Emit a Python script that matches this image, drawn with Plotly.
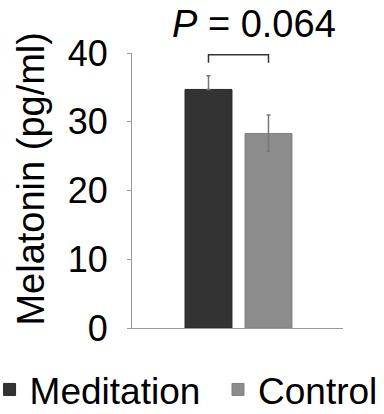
import plotly.graph_objects as go

# Data
groups = ["Meditation", "Control"]
means = [34.7, 28.3]
err_plus = [2.0, 2.7]
err_minus = [0.0, 2.6]
colors = ["#333333", "#8c8c8c"]
y_ticks = [0, 10, 20, 30, 40]
p_label = "<i>P</i> = 0.064"
bracket_top = 39.75
bracket_bottom = 38.6

FONT = "Liberation Sans, Arial, sans-serif"
legend_names = ["legend", "legend2"]

fig = go.Figure()
for i, (g, m, ep, em, c) in enumerate(zip(groups, means, err_plus, err_minus, colors)):
    fig.add_trace(go.Bar(
        x=[i], y=[m], name=g, width=0.783, legend=legend_names[i],
        marker=dict(color=c, line=dict(color="#2a2a2a" if i == 0 else "#808080", width=1)),
        error_y=dict(type="data", symmetric=False, array=[ep], arrayminus=[em],
                     color="#777777", thickness=1.5, width=2),
    ))

fig.add_shape(type="path",
              path=f"M 0,{bracket_bottom} L 0,{bracket_top} L 1,{bracket_top} L 1,{bracket_bottom}",
              xref="x", yref="y", line=dict(color="#333333", width=1.5))

fig.add_annotation(text=p_label, xref="paper", yref="paper", x=0.578, y=1.105,
                   xanchor="center", yanchor="middle", showarrow=False,
                   font=dict(family=FONT, size=38, color="#000"))

fig.add_annotation(text="Melatonin (pg/ml)", xref="paper", yref="paper",
                   x=-0.483, y=0.5436, xanchor="center", yanchor="middle",
                   textangle=-90, showarrow=False,
                   font=dict(family=FONT, size=38, color="#000"))

leg_common = dict(orientation="h", y=-0.225, yanchor="middle", xanchor="left",
                  font=dict(family=FONT, size=37, color="#000"),
                  bgcolor="rgba(0,0,0,0)", itemwidth=30)

fig.update_layout(
    width=384, height=414,
    margin=dict(l=132, r=41, t=53, b=86, autoexpand=False),
    paper_bgcolor="white", plot_bgcolor="white",
    showlegend=True,
    legend=dict(x=-0.675, **leg_common),
    legend2=dict(x=0.4076, **leg_common),
    font=dict(family=FONT, color="#000"),
)
fig.update_xaxes(range=[-1.275, 2.242], showticklabels=False, showgrid=False,
                 zeroline=False, showline=True, linecolor="#999999", linewidth=1.2,
                 ticks="", automargin=False)
fig.update_yaxes(range=[0, 40], tickvals=y_ticks, showgrid=False, zeroline=False,
                 showline=True, linecolor="#999999", linewidth=1.2,
                 ticks="outside", ticklen=4, tickcolor="#999999", tickwidth=1.2,
                 ticklabelstandoff=12, automargin=False,
                 tickfont=dict(family=FONT, size=36, color="#000"))

fig.write_html("out.html", config={"displayModeBar": False},
               post_script="document.body.style.margin='0';")
